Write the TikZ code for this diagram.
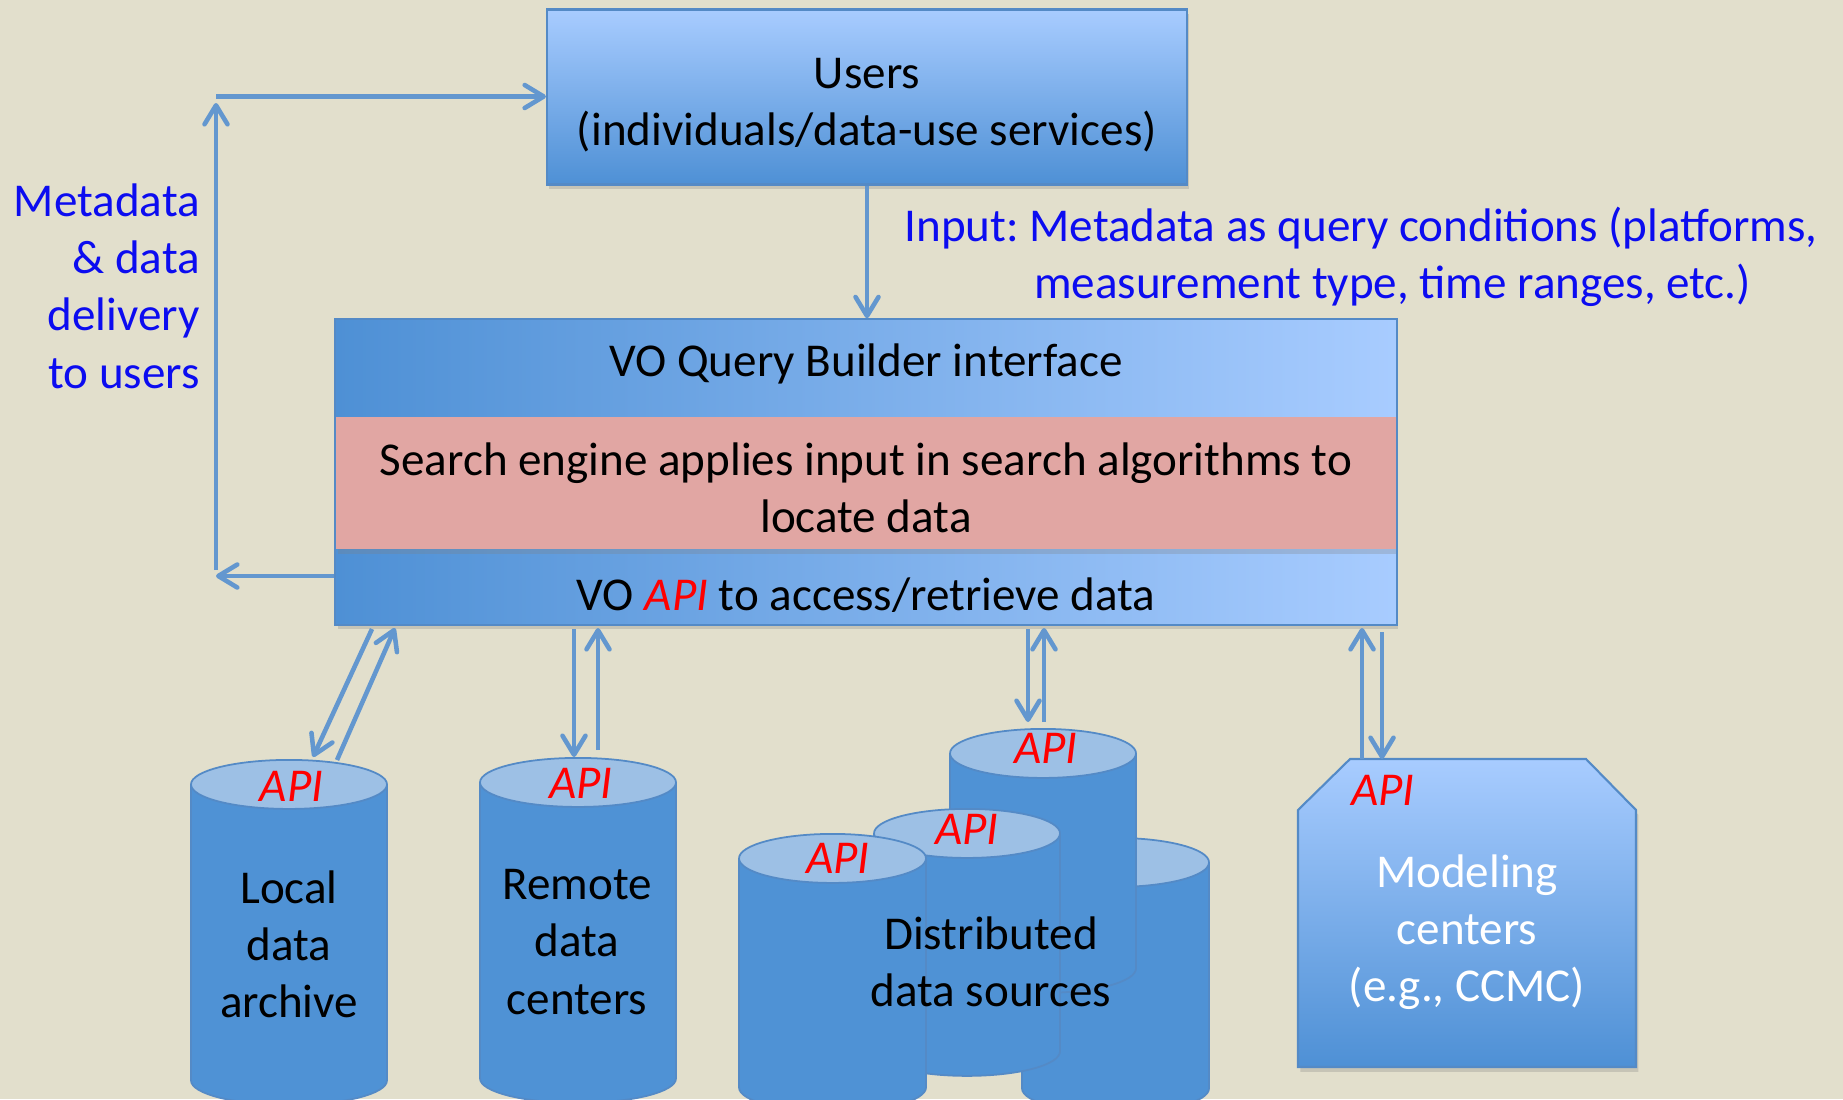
\documentclass[tikz,border=0pt]{standalone}
\usepackage{fontspec}
\setmainfont{Carlito}
\frenchspacing
\usetikzlibrary{arrows.meta,shapes.geometric,shadows,fit}

\definecolor{paper}{RGB}{226,223,204}
\definecolor{boxdark}{RGB}{78,144,213}
\definecolor{boxlight}{RGB}{168,204,255}
\definecolor{enginepink}{RGB}{225,166,163}
\definecolor{cylbody}{RGB}{79,146,213}
\definecolor{cyltop}{RGB}{157,192,229}
\definecolor{rim}{RGB}{84,138,198}
\definecolor{flowblue}{RGB}{99,151,207}
\definecolor{apired}{RGB}{255,0,0}
\definecolor{noteblue}{RGB}{12,12,240}

\tikzset{
  boxshadow/.style={drop shadow={opacity=0.28,shadow xshift=0.7pt,shadow yshift=-1.4pt}},
  users box/.style={rectangle,draw=rim,line width=0.6pt,top color=boxlight,bottom color=boxdark,
    minimum width=6.40cm,minimum height=1.75cm,boxshadow},
  band/.style={rectangle,left color=boxdark,right color=boxlight,minimum width=10.60cm,inner sep=0pt},
  engine band/.style={rectangle,fill=enginepink,minimum width=10.60cm,inner sep=0pt,boxshadow},
  store/.style={cylinder,shape border rotate=90,aspect=1.55,inner sep=4.5pt,draw=rim,line width=0.5pt,
    cylinder uses custom fill,cylinder body fill=cylbody,cylinder end fill=cyltop,anchor=top},
  api/.style={text=apired,font=\fontsize{13.4}{16.3}\selectfont\itshape},
  note/.style={text=noteblue,inner sep=0pt},
  flowline/.style={draw=flowblue,line width=1.3pt,->},
}

\begin{document}
\begin{tikzpicture}[font=\fontsize{13.4}{16.3}\selectfont,>={Straight Barb[length=1.9mm,width=2.3mm,round]}]
	\fill[paper] (0,0) rectangle (18.43,-10.99);
	\useasboundingbox (0,0) rectangle (18.43,-10.99);
	\clip (0,0) rectangle (18.43,-10.99);

	\node[users box] (users) at (8.67,-0.97) {};
	\node[align=center] (userstxt) at (8.67,-1.05) {Users\\(individuals/data-use services)};

	% the VO box is three bands with one outline
	\node[band,minimum height=0.97cm] (query) at (8.66,-3.685) {};
	\node[band,minimum height=0.75cm,boxshadow] (access) at (8.66,-5.865) {};
	\node[engine band,minimum height=1.32cm] (search) at (8.66,-4.83) {};
	\node[fit=(query)(access),draw=rim,line width=0.6pt,inner sep=0pt] (vo) {};
	\node (querytxt) at (8.66,-3.638) {VO Query Builder interface};
	\node[align=center] (searchtxt) at (8.66,-4.877) {Search engine applies input in search algorithms to\\locate data};
	\node (accesstxt) at (8.66,-5.948) {VO \textcolor{apired}{\itshape API} to access/retrieve data};

	\node[note,align=center] (input) at (13.61,-2.565) {Input: Metadata as query conditions (platforms,\\\hspace*{0.63cm}measurement type, time ranges, etc.)};
	\node[note,align=right,anchor=east] (delivery) at (2.005,-2.86) {Metadata\\\& data\\delivery\\to users};

	\coordinate (turnlow) at (2.16,-5.76);
	\coordinate (turnhigh) at (2.16,-0.965);
	\coordinate (uptip) at (2.16,-1.03);
	\draw[flowline] (turnlow -| vo.west) -- (turnlow);
	\draw[flowline] ([yshift=0.06cm]turnlow) -- (uptip);
	\draw[flowline] (turnhigh) -- (turnhigh -| users.west);
	\draw[flowline] (users.south) -- (users.south |- vo.north);

	% data stores, placed by their top
	\node[store,minimum width=1.96cm,minimum height=3.45cm] (local) at (2.89,-7.59) {};
	\node[store,minimum width=1.96cm,minimum height=3.45cm] (remote) at (5.78,-7.57) {};
	\node[store,minimum width=1.87cm,minimum height=2.75cm] (srcD) at (11.155,-8.37) {};
	\node[store,minimum width=1.86cm,minimum height=2.64cm] (srcC) at (10.43,-7.28) {};
	\node[store,minimum width=1.86cm,minimum height=2.67cm] (srcB) at (9.67,-8.08) {};
	\node[store,minimum width=1.87cm,minimum height=2.78cm] (srcA) at (8.325,-8.33) {};

	\path[boxshadow,draw=rim,line width=0.6pt,top color=boxlight,bottom color=boxdark]
		(12.98,-10.67) -- (12.98,-8.10) -- (13.50,-7.59) -- (15.86,-7.59) -- (16.36,-8.10) -- (16.36,-10.67) -- cycle;

	\node[api] (apiL) at (2.915,-7.86) {API};
	\node[api] (apiR) at (5.81,-7.83) {API};
	\node[api] (apiC) at (10.46,-7.48) {API};
	\node[api] (apiB) at (9.67,-8.29) {API};
	\node[api] (apiA) at (8.38,-8.58) {API};
	\node[api] (apiM) at (13.83,-7.90) {API};

	\node[align=center] (localtxt) at (2.89,-9.445) {Local\\data\\archive};
	\node[align=center] (remotetxt) at (5.77,-9.42) {Remote\\data\\centers};
	\node[align=center] (srctxt) at (9.91,-9.615) {Distributed\\data sources};
	\node[align=center,text=white] (model) at (14.67,-9.32) {Modeling\\centers\\(e.g., CCMC)};

	% request / reply arrows under the VO box
	\coordinate (ldown0) at (3.72,-6.29);
	\coordinate (ldown1) at (3.13,-7.57);
	\coordinate (lup0) at (3.37,-7.60);
	\coordinate (lup1) at (3.95,-6.28);
	\coordinate (rdown0) at (5.74,-6.29);
	\coordinate (rdown1) at (5.74,-7.57);
	\coordinate (rup0) at (5.98,-7.50);
	\coordinate (rup1) at (5.98,-6.28);
	\coordinate (ddown0) at (10.28,-6.29);
	\coordinate (ddown1) at (10.28,-7.22);
	\coordinate (dup0) at (10.44,-7.22);
	\coordinate (dup1) at (10.44,-6.28);
	\coordinate (mup0) at (13.62,-7.59);
	\coordinate (mup1) at (13.62,-6.28);
	\coordinate (mdown0) at (13.82,-6.32);
	\coordinate (mdown1) at (13.82,-7.59);
	\draw[flowline] (ldown0) -- (ldown1);
	\draw[flowline] (lup0) -- (lup1);
	\draw[flowline] (rdown0) -- (rdown1);
	\draw[flowline] (rup0) -- (rup1);
	\draw[flowline] (ddown0) -- (ddown1);
	\draw[flowline] (dup0) -- (dup1);
	\draw[flowline] (mup0) -- (mup1);
	\draw[flowline] (mdown0) -- (mdown1);
\end{tikzpicture}
\end{document}
